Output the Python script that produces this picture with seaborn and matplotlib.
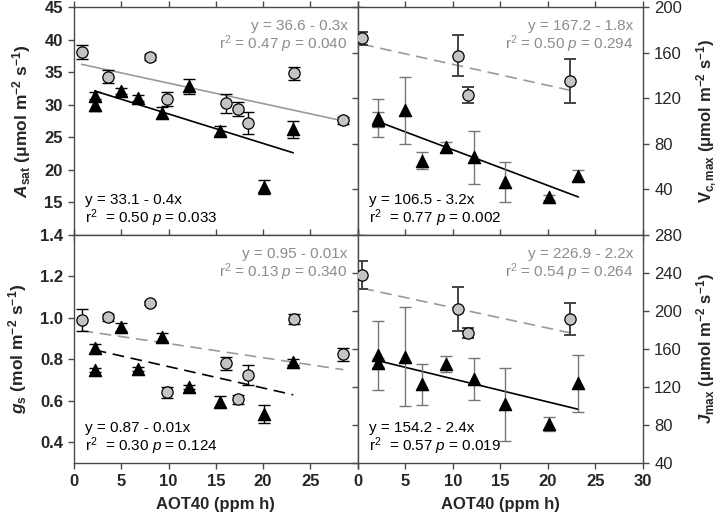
import numpy as np
import seaborn as sns
import matplotlib.pyplot as plt

# AOT40 values (ppm h) of the two groups
aot_grey = [0.8, 3.6, 8.0, 9.8, 16.1, 17.4, 18.4, 23.3, 28.5]
aot_black = [2.2, 2.2, 5.0, 6.8, 9.3, 12.2, 15.5, 20.1, 23.2]
aot_grey_b = [0.5, 10.6, 11.6, 22.3]

# A_sat
asat_grey = [38.1, 34.3, 37.3, 30.9, 30.2, 29.3, 27.2, 34.8, 27.6]
asat_grey_err = [1.1, 1.0, 0.5, 1.1, 1.4, 1.1, 1.7, 1.0, 0.5]
asat_black = [31.3, 29.9, 32.1, 31.0, 28.8, 32.8, 26.0, 17.4, 26.2]
asat_black_err = [0.7, 0.9, 0.4, 0.5, 0.9, 1.2, 0.7, 1.1, 1.3]

# g_s
gs_grey = [0.99, 1.003, 1.07, 0.641, 0.781, 0.607, 0.724, 0.993, 0.824]
gs_grey_err = [0.052, 0.016, 0.01, 0.028, 0.032, 0.02, 0.05, 0.024, 0.032]
gs_black = [0.853, 0.749, 0.955, 0.753, 0.909, 0.668, 0.596, 0.536, 0.789]
gs_black_err = [0.02, 0.008, 0.02, 0.008, 0.02, 0.01, 0.028, 0.043, 0.015]

# V_c,max
vc_grey = [172.5, 157.3, 122.8, 135.1]
vc_grey_err = [5.8, 18.0, 7.0, 19.3]
vc_black = [102.3, 101.0, 109.6, 65.2, 77.5, 68.1, 46.8, 33.0, 52.0]
vc_black_err = [16.7, 6.6, 29.4, 7.6, 4.4, 23.4, 17.5, 2.0, 4.8]

# J_max
j_grey = [237.9, 202.1, 176.5, 191.3]
j_grey_err = [14.7, 22.8, 5.3, 17.0]
j_black = [153.2, 145.6, 151.9, 122.8, 144.2, 128.4, 101.8, 80.7, 123.9]
j_black_err = [36.3, 5.0, 51.8, 21.4, 8.8, 21.6, 38.6, 7.4, 30.2]

# regression lines (intercept, slope)
fit_asat = [(36.45, -0.314), (33.1, -0.452)]
fit_gs = [(0.944, -0.0068), (0.868, -0.0103)]
fit_vc = [(168.2, -1.85), (106.2, -3.14)]
fit_j = [(225.0, -2.15), (152.9, -2.43)]

# equation labels
txt_asat = ["y = 36.6 - 0.3x", r"r$^2$ = 0.47 $p$ = 0.040",
            "y = 33.1 - 0.4x", r"r$^2$  = 0.50 $p$ = 0.033"]
txt_gs = ["y = 0.95 - 0.01x", r"r$^2$ = 0.13 $p$ = 0.340",
          "y = 0.87 - 0.01x", r"r$^2$  = 0.30 $p$ = 0.124"]
txt_vc = ["y = 167.2 - 1.8x", r"r$^2$ = 0.50 $p$ = 0.294",
          "y = 106.5 - 3.2x", r"r$^2$  = 0.77 $p$ = 0.002"]
txt_j = ["y = 226.9 - 2.2x", r"r$^2$ = 0.54 $p$ = 0.264",
         "y = 154.2 - 2.4x", r"r$^2$  = 0.57 $p$ = 0.019"]

GREY_FILL = "#c4c4c4"
GREY_LINE = "#9a9a9a"
GREY_TEXT = "#8c8c8c"

sns.set_theme(style="ticks")
plt.rcParams["font.family"] = ["Liberation Sans", "DejaVu Sans"]
plt.rcParams["mathtext.fontset"] = "custom"
plt.rcParams["mathtext.rm"] = "Liberation Sans"
plt.rcParams["mathtext.it"] = "Liberation Sans:italic"
plt.rcParams["mathtext.bf"] = "Liberation Sans:bold"
plt.rcParams["mathtext.bfit"] = "Liberation Sans:bold:italic"


def draw_group(ax, x, y, err, marker, size, face, ecolor, elw, ls, fit, line_color):
    # error bars
    ax.errorbar(x, y, yerr=err, fmt="none", ecolor=ecolor, elinewidth=elw,
                capsize=4.5, capthick=elw, zorder=2)
    # markers
    sns.scatterplot(x=x, y=y, marker=marker, s=size, color=face,
                    edgecolor="black", linewidth=0.9, ax=ax, zorder=3)
    # regression line
    xs = np.array([min(x), max(x)])
    sns.lineplot(x=xs, y=fit[0] + fit[1] * xs, ax=ax, color=line_color,
                 linewidth=1.2, linestyle=ls, zorder=1)
    if ls == "--":
        ax.lines[-1].set_dashes((7, 4))


def panel(ax, grey, black, fits, texts, styles, dark_bars):
    gx, gy, ge = grey
    bx, by, be = black
    draw_group(ax, gx, gy, ge, "o", 66, GREY_FILL,
               "#444444" if dark_bars else "black", 1.4 if dark_bars else 1.0,
               styles[0], fits[0], GREY_LINE)
    draw_group(ax, bx, by, be, "^", 78, "black",
               "#777777" if dark_bars else "black", 1.0,
               styles[1], fits[1], "black")

    ax.text(0.965, 0.915, texts[0], transform=ax.transAxes, ha="right",
            va="center", fontsize=11, color=GREY_TEXT)
    ax.text(0.965, 0.835, texts[1], transform=ax.transAxes, ha="right",
            va="center", fontsize=11, color=GREY_TEXT)
    ax.text(0.04, 0.155, texts[2], transform=ax.transAxes, ha="left",
            va="center", fontsize=11, color="black")
    ax.text(0.04, 0.075, texts[3], transform=ax.transAxes, ha="left",
            va="center", fontsize=11, color="black")


fig = plt.figure(figsize=(7.22, 5.32), dpi=100, facecolor="white")
ax_a = fig.add_axes([0.1025, 0.5583, 0.3927, 0.4286])
ax_v = fig.add_axes([0.4952, 0.5583, 0.3955, 0.4286])
ax_g = fig.add_axes([0.1025, 0.1297, 0.3927, 0.4286])
ax_j = fig.add_axes([0.4952, 0.1297, 0.3955, 0.4286])

panel(ax_a, (aot_grey, asat_grey, asat_grey_err),
      (aot_black, asat_black, asat_black_err), fit_asat, txt_asat,
      ("-", "-"), False)
panel(ax_g, (aot_grey, gs_grey, gs_grey_err),
      (aot_black, gs_black, gs_black_err), fit_gs, txt_gs,
      ("--", "--"), False)
panel(ax_v, (aot_grey_b, vc_grey, vc_grey_err),
      (aot_black, vc_black, vc_black_err), fit_vc, txt_vc,
      ("--", "-"), True)
panel(ax_j, (aot_grey_b, j_grey, j_grey_err),
      (aot_black, j_black, j_black_err), fit_j, txt_j,
      ("--", "-"), True)

# limits and ticks
ax_a.set_ylim(10, 45)
ax_a.set_yticks([15, 20, 25, 30, 35, 40, 45])
ax_g.set_ylim(0.3, 1.4)
ax_g.set_yticks([0.4, 0.6, 0.8, 1.0, 1.2, 1.4])
ax_g.set_yticklabels(["0.4", "0.6", "0.8", "1.0", "1.2", "1.4"])
ax_v.set_ylim(0, 200)
ax_v.set_yticks([40, 80, 120, 160, 200])
ax_j.set_ylim(40, 280)
ax_j.set_yticks([40, 80, 120, 160, 200, 240, 280])

for ax in [ax_a, ax_v, ax_g, ax_j]:
    ax.set_xlim(0, 30)
    ax.set_xticks([0, 5, 10, 15, 20, 25, 30])
    ax.set_xlabel("")
    ax.set_ylabel("")
    for sp in ax.spines.values():
        sp.set_visible(True)
        sp.set_color("#4a4a4a")
        sp.set_linewidth(1.0)
    ax.tick_params(axis="both", direction="out", length=4, width=1.0,
                   color="#4a4a4a", top=True, bottom=True, left=True,
                   right=True, labelsize=12, pad=4)
    for lab in ax.get_xticklabels() + ax.get_yticklabels():
        lab.set_fontweight("bold")

for ax in [ax_a, ax_v]:
    ax.tick_params(axis="x", labelbottom=False)
for ax in [ax_v, ax_j]:
    ax.tick_params(axis="y", labelleft=False, labelright=True)

ax_g.set_xticklabels(["0", "5", "10", "15", "20", "25", ""], fontweight="bold")
ax_j.set_xticklabels(["0", "5", "10", "15", "20", "25", "30"], fontweight="bold")

# axis titles
ax_g.set_xlabel("AOT40 (ppm h)", fontsize=12, fontweight="bold", labelpad=6)
ax_j.set_xlabel("AOT40 (ppm h)", fontsize=12, fontweight="bold", labelpad=6)
ax_a.set_ylabel(r"$\mathbfit{A}_{\mathbf{sat}}$ $\mathbf{(μmol\ m^{-2}\ s^{-1})}$",
                fontsize=12.5, labelpad=8)
ax_g.set_ylabel(r"$\mathbfit{g}_{\mathbf{s}}$ $\mathbf{(mol\ m^{-2}\ s^{-1})}$",
                fontsize=12.5, labelpad=8)
ax_v.yaxis.set_label_position("right")
ax_j.yaxis.set_label_position("right")
ax_v.set_ylabel(r"$\mathbf{V}_{\mathbf{c,max}}$ $\mathbf{(μmol\ m^{-2}\ s^{-1})}$",
                fontsize=12, labelpad=9)
ax_j.set_ylabel(r"$\mathbfit{J}_{\mathbf{max}}$ $\mathbf{(μmol\ m^{-2}\ s^{-1})}$",
                fontsize=12, labelpad=9)

plt.savefig("out.png", dpi=100, facecolor="white")
plt.close("all")
